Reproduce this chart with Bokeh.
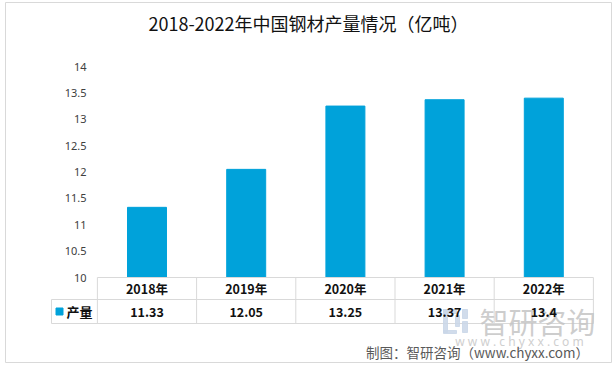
from bokeh.plotting import figure
from bokeh.models import Label, Range1d, FixedTicker
from bokeh.core.properties import value
from bokeh.embed import file_html
from bokeh.resources import INLINE

years = ["2018年", "2019年", "2020年", "2021年", "2022年"]
output = [11.33, 12.05, 13.25, 13.37, 13.4]
output_labels = ["11.33", "12.05", "13.25", "13.37", "13.4"]
y_ticks = [10, 10.5, 11, 11.5, 12, 12.5, 13, 13.5, 14]
series_name = "产量"
title_text = "2018-2022年中国钢材产量情况（亿吨）"
source_text = "制图：智研咨询（www.chyxx.com）"
wm_text = "智研咨询"
wm_url = "w w w . c h y x x . c o m"

BAR = "#00A2DA"
GRID = "#d9d9d9"
CJK = value("Noto Sans CJK SC")

W, H = 616, 368
FL, FT, FR, FB = 5, 2, 611, 362   # frame edges in page px
FW, FH = FR - FL, FB - FT
COL = 99.2      # px per category
UNIT = 52.75    # px per value unit
X0 = 146.5      # page px of first category centre
Y10 = 277       # page px of value 10

x_start = -(X0 - FL) / COL
x_end = x_start + FW / COL
y_top = 10 + (Y10 - FT) / UNIT
y_bot = y_top - FH / UNIT


def py(p):
    return y_top - (p - FT) / UNIT


def px(p):
    return x_start + (p - FL) / COL


p = figure(width=W, height=H, x_range=Range1d(x_start, x_end),
           y_range=Range1d(y_bot, y_top), output_backend="svg",
           toolbar_location=None, min_border_left=FL, min_border_top=FT,
           min_border_right=W - FR, min_border_bottom=H - FB)
p.xaxis.visible = False
p.xgrid.visible = False
p.ygrid.visible = False
p.outline_line_color = GRID
p.background_fill_color = "white"
p.border_fill_color = "white"

ax = p.yaxis[0]
ax.fixed_location = px(91)
ax.ticker = FixedTicker(ticks=y_ticks)
ax.axis_line_color = None
ax.major_tick_line_color = None
ax.minor_tick_line_color = None
ax.major_tick_in = 0
ax.major_tick_out = 0
ax.major_label_standoff = 5
ax.major_label_text_font = "Noto Sans"
ax.major_label_text_font_size = "11px"
ax.major_label_text_color = "#404040"

xs = list(range(len(years)))
p.vbar(x=xs, top=output, bottom=10, width=0.393, color=BAR)

# table grid
n = len(years)
vx = [i - 0.5 for i in range(n + 1)]
p.segment(x0=vx, y0=[10] * (n + 1), x1=vx, y1=[py(323)] * (n + 1),
          line_color=GRID, line_width=1)
p.segment(x0=[px(51)], y0=[py(299)], x1=[px(51)], y1=[py(323)],
          line_color=GRID, line_width=1)
p.segment(x0=[-0.5, px(51), px(51)], y0=[10, py(299), py(323)],
          x1=[n - 0.5] * 3, y1=[10, py(299), py(323)],
          line_color=GRID, line_width=1)

# watermark (drawn beneath the table texts)
LOGO = "#c9d6e8"
p.quad(left=[px(443), px(443), px(443), px(455), px(462), px(462)],
       right=[px(447), px(456), px(456), px(459), px(467), px(467)],
       top=[py(309), py(309), py(330), py(315), py(309), py(321)],
       bottom=[py(332), py(313), py(333), py(326), py(318), py(332)],
       color=LOGO, alpha=0.85)
p.text(x=[px(537)], y=[py(320)], text=[wm_text], text_font=CJK,
       text_font_size="29px", text_color="#c4c4c4", text_alpha=0.85,
       text_align="center", text_baseline="middle")
p.text(x=[px(519)], y=[py(341)], text=[wm_url], text_font=value("Noto Sans"),
       text_font_size="12px", text_color="#cfcfcf",
       text_align="center", text_baseline="middle")

p.text(x=xs, y=[py(288)] * n, text=years, text_font=CJK,
       text_font_style="bold", text_font_size="12.5px", text_color="#111111",
       text_align="center", text_baseline="middle")
p.text(x=xs, y=[py(311)] * n, text=output_labels, text_font=CJK,
       text_font_style="bold", text_font_size="12.5px", text_color="#111111",
       text_align="center", text_baseline="middle")

p.scatter(x=[px(59)], y=[py(311)], marker="square", size=7, color=BAR)
p.text(x=[px(66)], y=[py(311)], text=[series_name], text_font=CJK,
       text_font_style="bold", text_font_size="13px", text_color="#111111",
       text_align="left", text_baseline="middle")


def lab(x, y, text, font, size, color, align="center"):
    p.add_layout(Label(x=x - FL, y=FB - y, x_units="screen", y_units="screen",
                       text=text, text_font=font, text_font_size=size,
                       text_color=color, text_align=align,
                       text_baseline="middle"))


lab(308, 22, title_text, "Noto Sans CJK SC", "18px", "#111111")
lab(477, 351, source_text, "Noto Sans CJK SC", "13.5px", "#595959")

open("out.html", "w").write(file_html(p, INLINE))
